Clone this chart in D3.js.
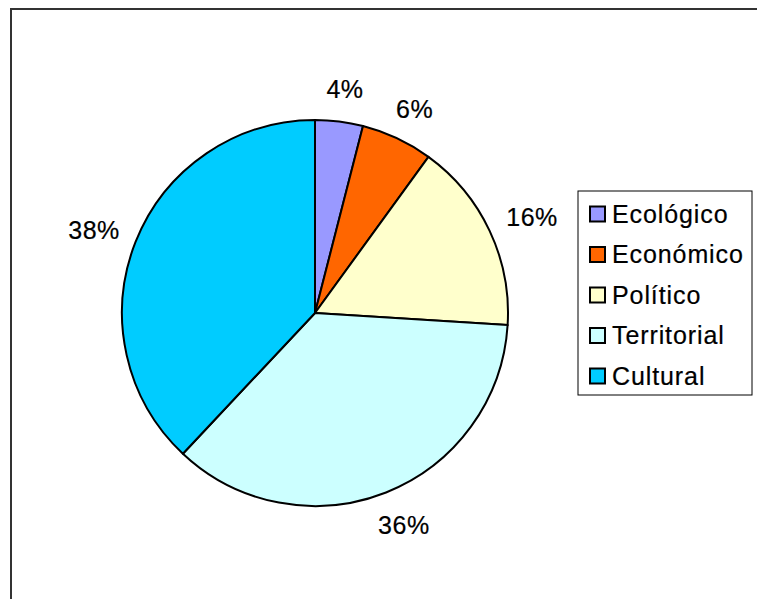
<!DOCTYPE html>
<html><head><meta charset="utf-8">
<script src="https://cdn.jsdelivr.net/npm/d3@7"></script>
<style>html,body{margin:0;padding:0;background:#fff;}svg{display:block;}</style>
</head><body>
<svg id="c" width="757" height="599"></svg>
<script>
const categories = ["Ecológico","Económico","Político","Territorial","Cultural"];
const values = [4, 6, 16, 36, 38];
const labels = ["4%","6%","16%","36%","38%"];
const colors = ["#9999FF","#FF6600","#FFFFCC","#CCFFFF","#00CCFF"];

const svg = d3.select("#c");
const font = "'Liberation Sans', Arial, sans-serif";

// chart frame
svg.append("rect").attr("x",11).attr("y",9).attr("width",800).attr("height",700)
  .attr("fill","#fff").attr("stroke","#333").attr("stroke-width",2);

const cx = 315, cy = 313, R = 193;
const pie = d3.pie().sort(null).value(d=>d)(values);
const arc = d3.arc().innerRadius(0).outerRadius(R);
const g = svg.append("g").attr("transform",`translate(${cx},${cy})`);
g.selectAll("path").data(pie).join("path")
  .attr("d",arc).attr("fill",(d,i)=>colors[i])
  .attr("stroke","#000").attr("stroke-width",2).attr("stroke-linejoin","round");

// labels
const r0 = 213;
g.selectAll("text").data(pie).join("text")
  .attr("font-family",font).attr("font-size",25).attr("letter-spacing",0.5)
  .attr("fill","#000").attr("stroke","#000").attr("stroke-width",0.2)
  .attr("text-anchor","middle").attr("dominant-baseline","central")
  .text((d,i)=>labels[i])
  .each(function(d){
    const a = (d.startAngle+d.endAngle)/2;
    const bb = this.getBBox();
    const x = r0*Math.sin(a) + Math.sin(a)*bb.width/2 + 1;
    const y = -r0*Math.cos(a) - Math.cos(a)*bb.height/2;
    d3.select(this).attr("x",x).attr("y",y+1);
  });

// legend
const lx = 578, ly = 191, lw = 174, lh = 204;
svg.append("rect").attr("x",lx).attr("y",ly).attr("width",lw).attr("height",lh)
  .attr("fill","#fff").attr("stroke","#000").attr("stroke-width",1);
const ys = d3.scalePoint().domain(categories).range([214, 376]);
const li = svg.append("g").selectAll("g").data(categories).join("g")
  .attr("transform",d=>`translate(0,${ys(d)})`);
li.append("rect").attr("x",590).attr("y",-7.5).attr("width",15).attr("height",15)
  .attr("fill",(d,i)=>colors[i]).attr("stroke","#000").attr("stroke-width",2);
li.append("text").attr("x",612).attr("y",8.5)
  .attr("font-family",font).attr("font-size",25).attr("letter-spacing",0.9)
  .attr("stroke","#000").attr("stroke-width",0.2)
  .attr("fill","#000").text(d=>d);
</script>
</body></html>
